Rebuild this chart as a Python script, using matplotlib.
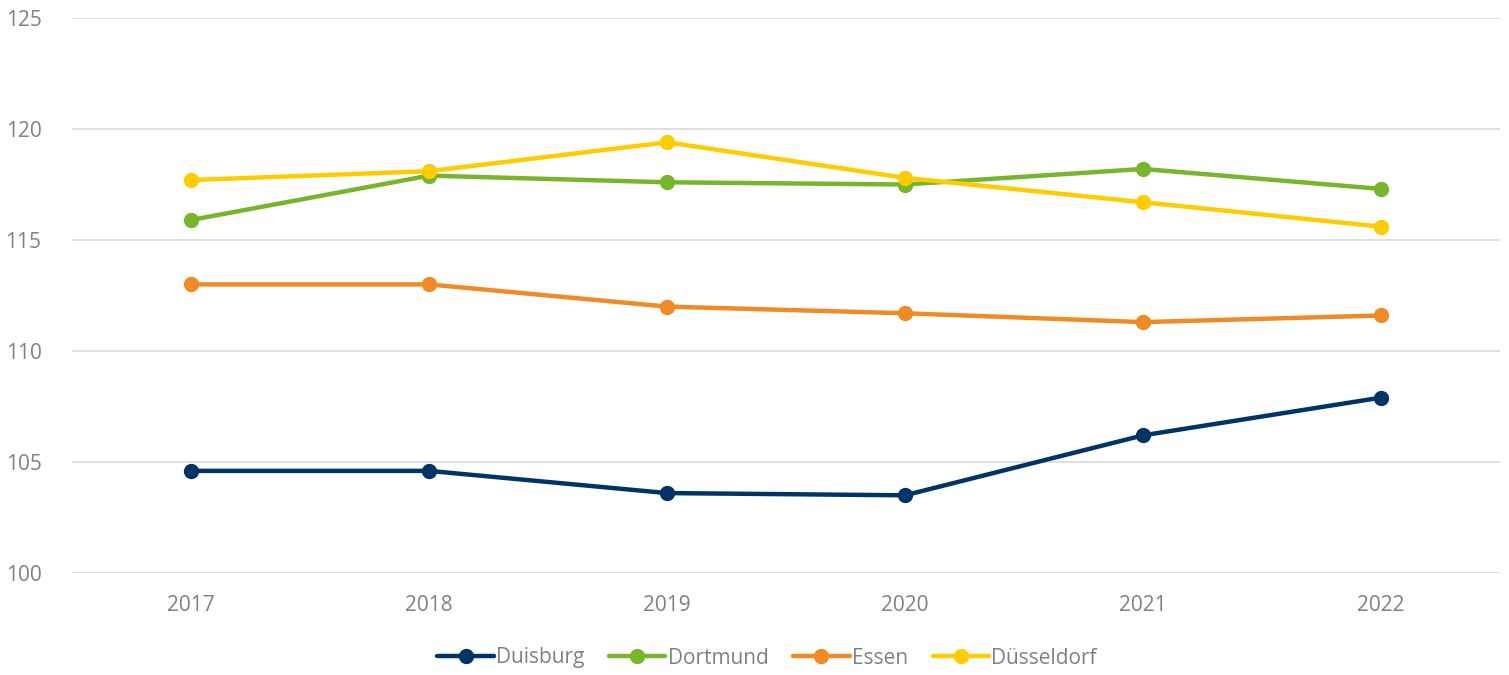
import matplotlib
matplotlib.use("Agg")
import matplotlib.pyplot as plt

plt.rcParams['font.family'] = ['Open Sans', 'DejaVu Sans']

years = [2017, 2018, 2019, 2020, 2021, 2022]
duisburg = [104.6, 104.6, 103.6, 103.5, 106.2, 107.9]
dortmund = [115.9, 117.9, 117.6, 117.5, 118.2, 117.3]
essen = [113.0, 113.0, 112.0, 111.7, 111.3, 111.6]
duesseldorf = [117.7, 118.1, 119.4, 117.8, 116.7, 115.6]

series = [
    ("Duisburg", duisburg, "#003366"),
    ("Dortmund", dortmund, "#77B52B"),
    ("Essen", essen, "#F08A24"),
    ("Düsseldorf", duesseldorf, "#FFCC00"),
]

fig = plt.figure(figsize=(15.09, 6.75), dpi=100)
ax = fig.add_axes([72 / 1509, 1 - 573 / 675, (1500 - 72) / 1509, (573 - 18) / 675])

for name, vals, col in series:
    ax.plot(years, vals, color=col, lw=3.2, marker='o', markersize=10,
            label=name, solid_capstyle='round')

ax.set_xlim(2016.5, 2022.5)
ax.set_ylim(100, 125)
ax.set_yticks([100, 105, 110, 115, 120, 125])
ax.set_xticks(years)
ax.grid(axis='y', color='#d9d9d9', lw=1.2)
ax.set_axisbelow(True)
for s in ax.spines.values():
    s.set_visible(False)
ax.tick_params(length=0, labelsize=15, colors='#808080', pad=16)
ax.tick_params(axis='y', pad=22)

fig.legend(loc='center', bbox_to_anchor=(767 / 1509, 1 - 658 / 675), ncol=4,
           frameon=False, fontsize=15, labelcolor='#808080',
           handlelength=2.7, handletextpad=0.1, columnspacing=1.2)

fig.savefig("out.png", dpi=100)
